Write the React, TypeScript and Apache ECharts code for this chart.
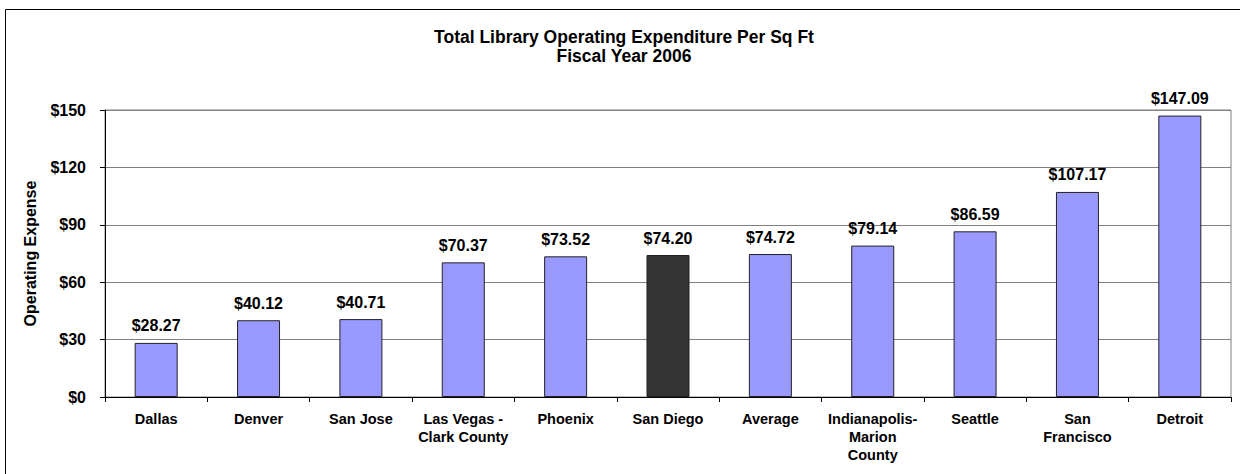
import React, { useEffect, useRef } from "react";
import * as echarts from "echarts";

const categories = [
  "Dallas",
  "Denver",
  "San Jose",
  "Las Vegas -\nClark County",
  "Phoenix",
  "San Diego",
  "Average",
  "Indianapolis-\nMarion\nCounty",
  "Seattle",
  "San\nFrancisco",
  "Detroit",
];
const values = [28.27, 40.12, 40.71, 70.37, 73.52, 74.2, 74.72, 79.14, 86.59, 107.17, 147.09];
const highlighted = "San Diego";
const titleLines = ["Total Library Operating Expenditure Per Sq Ft", "Fiscal Year 2006"];
const yAxisName = "Operating Expense";

const FONT = "Arial, 'Liberation Sans', sans-serif";

export default function App() {
  const ref = useRef<HTMLDivElement>(null);
  useEffect(() => {
    if (!ref.current) return;
    const chart = echarts.init(ref.current, undefined, { renderer: "svg" });
    chart.setOption({
      animation: false,
      backgroundColor: "#fff",
      graphic: [
        {
          type: "rect",
          shape: { x: 5.5, y: 9.5, width: 1300, height: 600 },
          style: { fill: "none", stroke: "#000", lineWidth: 1 },
          silent: true,
        },
        {
          type: "text",
          x: 624,
          y: 37,
          style: {
            text: titleLines[0],
            font: `bold 17.5px ${FONT}`,
            fill: "#000",
            align: "center",
            verticalAlign: "middle",
          },
        },
        {
          type: "text",
          x: 624,
          y: 56,
          style: {
            text: titleLines[1],
            font: `bold 17.5px ${FONT}`,
            fill: "#000",
            align: "center",
            verticalAlign: "middle",
          },
        },
      ],
      grid: {
        left: 105,
        top: 110,
        right: 9,
        bottom: 77,
        show: true,
        borderColor: "#808080",
        borderWidth: 1,
        backgroundColor: "transparent",
      },
      xAxis: {
        type: "category",
        data: categories,
        axisLine: { show: true, lineStyle: { color: "#000", width: 1 } },
        axisTick: { show: true, alignWithLabel: false, length: 5, lineStyle: { color: "#000" } },
        axisLabel: {
          interval: 0,
          margin: 13,
          fontFamily: FONT,
          fontWeight: "bold",
          fontSize: 14.5,
          color: "#000",
          lineHeight: 18,
        },
      },
      yAxis: {
        type: "value",
        min: 0,
        max: 150,
        interval: 30,
        name: yAxisName,
        nameLocation: "middle",
        nameGap: 67,
        nameRotate: 90,
        nameTextStyle: { fontFamily: FONT, fontWeight: "bold", fontSize: 16, color: "#000" },
        axisLine: { show: true, lineStyle: { color: "#000", width: 1 } },
        axisTick: { show: true, length: 5, lineStyle: { color: "#000" } },
        axisLabel: {
          margin: 19,
          fontFamily: FONT,
          fontWeight: "bold",
          fontSize: 16,
          color: "#000",
          formatter: (v: number) => `$${v}`,
        },
        splitLine: { show: true, lineStyle: { color: "#808080", width: 1 } },
      },
      series: [
        {
          type: "bar",
          barWidth: "42%",
          data: values.map((v, i) => ({
            value: v,
            itemStyle: {
              color: categories[i] === highlighted ? "#333333" : "#9999FF",
              borderColor: "#222",
              borderWidth: 1,
            },
          })),
          label: {
            show: true,
            position: "top",
            distance: 9,
            fontFamily: FONT,
            fontWeight: "bold",
            fontSize: 16,
            color: "#000",
            formatter: (p: any) => `$${Number(p.value).toFixed(2)}`,
          },
        },
      ],
    });
    return () => chart.dispose();
  }, []);
  return (
    <div
      ref={ref}
      style={{ position: "fixed", left: 0, top: 0, width: 1240, height: 474 }}
    />
  );
}
